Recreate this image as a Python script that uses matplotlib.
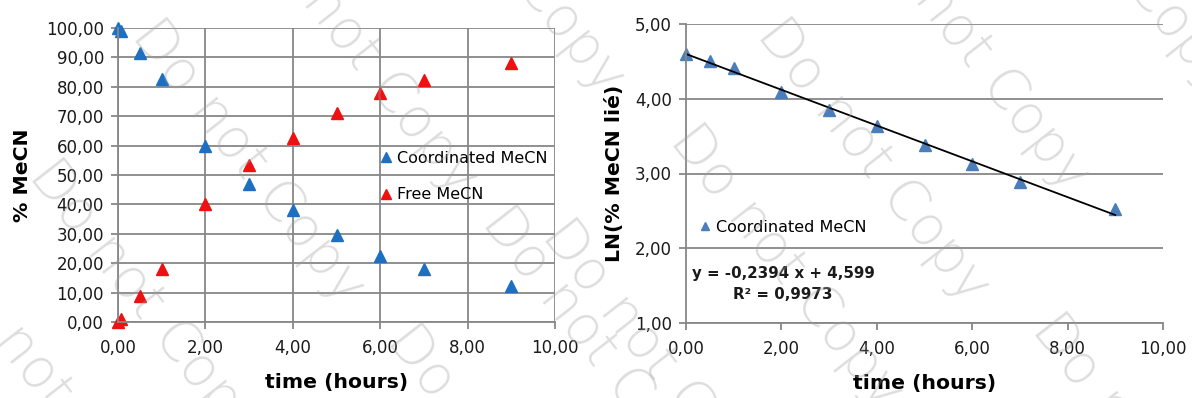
import matplotlib
matplotlib.use('Agg')
import matplotlib.pyplot as plt
from matplotlib.ticker import FuncFormatter, MultipleLocator
import numpy as np

# data
t_hours = [0, 0.08, 0.5, 1, 2, 3, 4, 5, 6, 7, 9]
coord_mecn = [100, 99, 91.5, 82.5, 60, 47, 38, 29.5, 22.5, 18, 12.3]
free_mecn = [0, 1, 9, 18, 40, 53.5, 62.5, 71, 78, 82.3, 88]

t_ln = [0, 0.5, 1, 2, 3, 4, 5, 6, 7, 9]
ln_coord = [4.60, 4.51, 4.41, 4.09, 3.85, 3.64, 3.38, 3.13, 2.89, 2.52]
slope = -0.2394
intercept = 4.599
r2 = 0.9973

plt.rcParams['font.family'] = ['DejaVu Sans']

W, H = 1192, 398
fig = plt.figure(figsize=(W/100, H/100), dpi=100)

grid_c = '#878787'
txt_c = '#1a1a1a'
blue1 = '#1f6fc1'
red1 = '#ee1111'
blue2 = '#4a7ebb'

def comma(v, pos):
    return ('%.2f' % v).replace('.', ',')

def style(ax):
    for s in ['top', 'right']:
        ax.spines[s].set_visible(False)
    for s in ['left', 'bottom']:
        ax.spines[s].set_color(grid_c)
        ax.spines[s].set_linewidth(1.3)
    ax.tick_params(direction='out', length=5, width=1.3, color=grid_c,
                   labelsize=12, labelcolor=txt_c)
    ax.tick_params(axis='x', pad=7)
    ax.tick_params(axis='y', pad=5)
    ax.xaxis.set_major_formatter(FuncFormatter(comma))
    ax.yaxis.set_major_formatter(FuncFormatter(comma))
    ax.set_axisbelow(True)

# ---- left panel
ax1 = fig.add_axes([118/W, 1-322/H, 437/W, 294/H])
style(ax1)
ax1.set_xlim(0, 10)
ax1.set_ylim(0, 100)
ax1.xaxis.set_major_locator(MultipleLocator(2))
ax1.yaxis.set_major_locator(MultipleLocator(10))
ax1.grid(True, color=grid_c, lw=1.3)
ax1.plot(t_hours, coord_mecn, '^', color=blue1, ms=8.5, mec=blue1, clip_on=False, label='Coordinated MeCN')
ax1.plot(t_hours, free_mecn, '^', color=red1, ms=8.5, mec=red1, clip_on=False, label='Free MeCN')
ax1.set_xlabel('time (hours)', fontsize=14.7, fontweight='bold', labelpad=12)
ax1.set_ylabel('% MeCN', fontsize=14.7, fontweight='bold', labelpad=10)
ax1.legend(loc='center left', bbox_to_anchor=(0.58, 0.495), frameon=False,
           fontsize=11.5, handlelength=0.8, handletextpad=0.3,
           labelspacing=1.35, borderpad=0, markerscale=0.9)

# ---- right panel
ax2 = fig.add_axes([686/W, 1-323/H, 477/W, 299/H])
style(ax2)
ax2.set_xlim(0, 10)
ax2.set_ylim(1, 5)
ax2.xaxis.set_major_locator(MultipleLocator(2))
ax2.yaxis.set_major_locator(MultipleLocator(1))
ax2.grid(True, axis='y', color=grid_c, lw=1.3)
ax2.plot(t_ln, ln_coord, '^', color=blue2, ms=8.5, mec=blue2, clip_on=False, label='Coordinated MeCN')
xf = np.array([t_ln[0], t_ln[-1]])
ax2.plot(xf, slope*xf + intercept, color='black', lw=1.3)
ax2.set_xlabel('time (hours)', fontsize=14.7, fontweight='bold', labelpad=12)
ax2.set_ylabel('LN(% MeCN lié)', fontsize=14.7, fontweight='bold', labelpad=8)
ax2.legend(loc='center left', bbox_to_anchor=(0.01, 0.32), frameon=False,
           fontsize=11.5, handlelength=0.8, handletextpad=0.3,
           borderpad=0, markerscale=0.75)
eq = ('y = %s x + %s\nR² = %s' % (('%.4f' % slope).replace('.', ','),
                                   ('%.3f' % intercept).replace('.', ','),
                                   ('%.4f' % r2).replace('.', ',')))
ax2.text(783/W, 1-284/H, eq, transform=fig.transFigure, ha='center', va='center',
         fontsize=10.8, fontweight='bold', color=txt_c, linespacing=1.5)

# ---- "Do not Copy" watermark
marks = [(248, 162), (145, 302), (361, 53), (53, 392), (503, 467), (598, 349),
         (508, -48), (873, 161), (973, 50), (786, 267), (658, 362), (1148, 456),
         (1118, -48)]
for mx, my in marks:
    fig.text(mx/W, 1-my/H, 'Do not Copy', fontsize=40, fontweight='light',
             color='#a0a0a0', alpha=0.36, rotation=-52, rotation_mode='anchor',
             ha='center', va='center', zorder=10)

fig.savefig('out.png', dpi=100)
